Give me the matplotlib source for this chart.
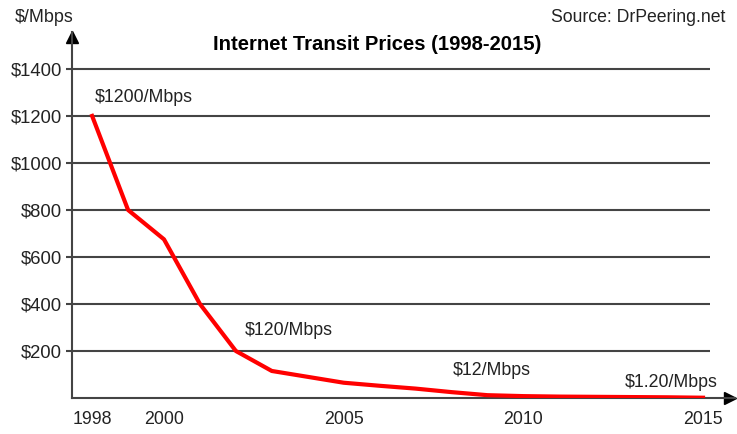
import matplotlib
matplotlib.use("Agg")
import matplotlib.pyplot as plt

plt.rcParams["font.family"] = ["Liberation Sans", "DejaVu Sans"]

years = [1998, 1999, 2000, 2001, 2002, 2003, 2004, 2005, 2006, 2007,
         2008, 2009, 2010, 2011, 2012, 2013, 2014, 2015]
prices = [1200, 800, 675, 400, 200, 115, 90, 65, 52, 40,
          25, 12, 8, 6, 5, 4, 3, 1.2]

y_ticks = [200, 400, 600, 800, 1000, 1200, 1400]
y_labels = [r"\$" + str(v) for v in y_ticks]
x_ticks = [1998, 2000, 2005, 2010, 2015]

# callouts: text, x, y, alignment
notes = [
    (r"\$1200/Mbps", 1998.08, 1277, "left"),
    (r"\$120/Mbps", 2002.26, 289, "left"),
    (r"\$12/Mbps", 2008.04, 115, "left"),
    (r"\$1.20/Mbps", 2015.42, 68, "right"),
]

ink = "#222222"
axis_col = "#444444"

fig = plt.figure(figsize=(7.37, 4.34), dpi=100)
ax = fig.add_axes([72 / 737, 36 / 434, (735 - 72) / 737, (398 - 32) / 434])

x0, x1 = 1997.44, 2015.89
ax.set_xlim(x0, x1)
ax.set_ylim(0, 1557)

ax.hlines(y_ticks, x0, 2015.2, colors=axis_col, linewidth=1.5, zorder=1)
ax.plot(years, prices, color="#ff0000", linewidth=3, solid_joinstyle="round", zorder=3)

for s in ["top", "right"]:
    ax.spines[s].set_visible(False)
for s in ["left", "bottom"]:
    ax.spines[s].set_color(axis_col)
    ax.spines[s].set_linewidth(1.5)

ax.plot(1 - 5 / 663, 0, ">", color="black", markersize=9, transform=ax.transAxes, clip_on=False)
ax.plot(0, 1 - 5 / 366, "^", color="black", markersize=9, transform=ax.transAxes, clip_on=False)

ax.set_yticks(y_ticks)
ax.set_yticklabels(y_labels)
ax.set_xticks(x_ticks)
ax.tick_params(axis="y", length=4, width=1.5, color=axis_col, labelsize=13.3, labelcolor=ink, pad=3)
ax.tick_params(axis="x", length=0, labelsize=12.8, labelcolor=ink, pad=9)

for txt, x, y, ha in notes:
    ax.text(x, y, txt, ha=ha, va="center", fontsize=12.8, color=ink)

fig.text(377 / 737, 1 - 44 / 434, "Internet Transit Prices (1998-2015)", ha="center", va="center",
         fontsize=14.6, fontweight="bold", color="black")
fig.text(15 / 737, 1 - 17 / 434, r"\$/Mbps", ha="left", va="center", fontsize=12.9, color=ink)
fig.text(725 / 737, 1 - 17 / 434, "Source: DrPeering.net", ha="right", va="center", fontsize=12.7, color=ink)

fig.savefig("out.png", dpi=100)
